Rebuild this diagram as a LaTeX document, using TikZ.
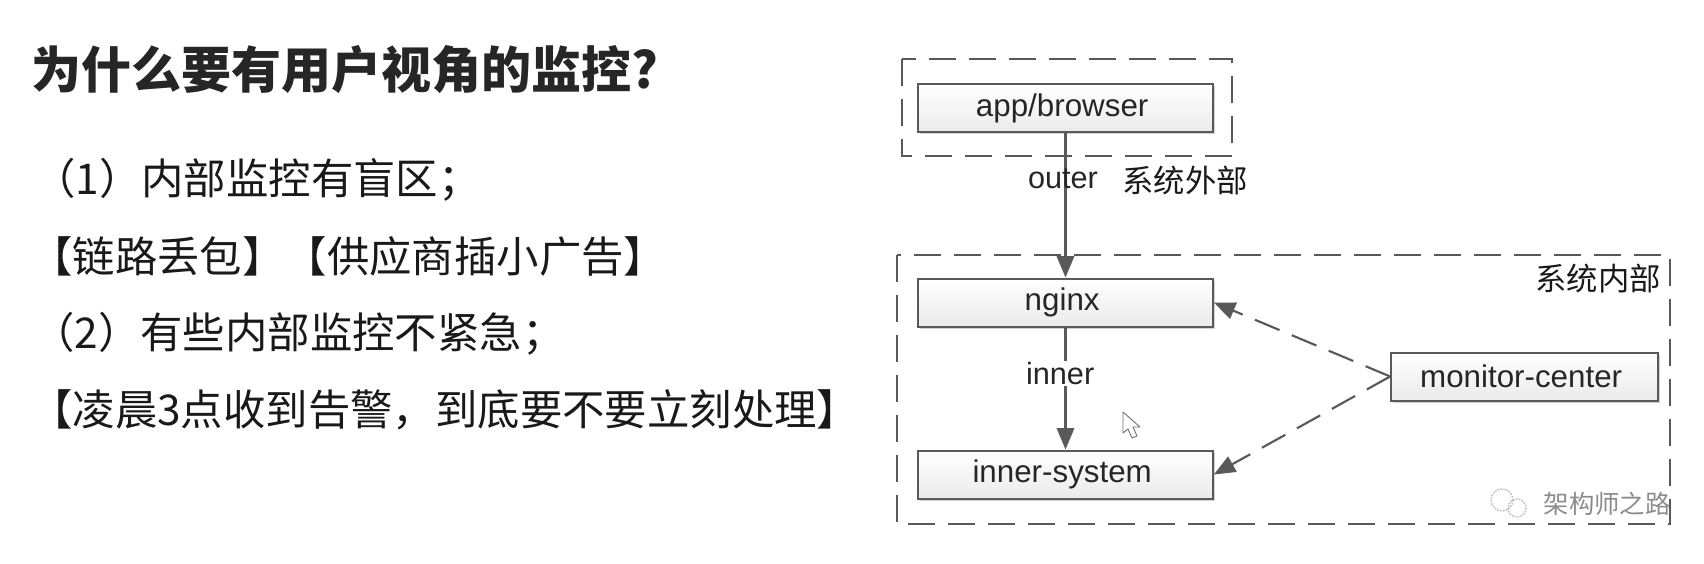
\documentclass[tikz,border=0pt]{standalone}
\usepackage{fontspec}
\usepackage{tikz}
\usetikzlibrary{arrows.meta,shadows}
\setmainfont{Liberation Sans}
\newfontfamily\cjk{Noto Sans CJK SC}

\tikzset{
  boxnode/.style={draw=black!65,line width=1.5pt,rectangle,top color=white,bottom color=black!8,
    minimum width=221pt,minimum height=36pt,inner sep=0pt,font=\fontsize{23.5}{27}\selectfont,text=black!85,
    execute at begin node=\hspace*{-5pt},
    drop shadow={shadow xshift=1.4pt,shadow yshift=-1.6pt,fill=black!35}},
  framebox/.style={draw=black!65,line width=1.9pt,dash pattern=on 20pt off 10pt},
  flowline/.style={draw=black!65,line width=1.6pt,-{Triangle[length=16pt,width=13pt]}},
  lookline/.style={flowline,dash pattern=on 20pt off 10pt},
  edgetext/.style={font=\fontsize{23}{27}\selectfont,text=black!85,inner sep=1pt},
  zhtext/.style={font=\cjk\fontsize{23.5}{28}\selectfont,text=black!90,inner sep=0pt},
  bodytext/.style={anchor=west,font=\cjk\fontsize{31.8}{38}\selectfont,text=black!90,inner sep=0pt},
}

\begin{document}
\begin{tikzpicture}[x=0.75pt,y=0.75pt,yscale=-1,xscale=1]
\useasboundingbox (0,0) rectangle (1704,564);

% Title and lines
\node (title) [anchor=west,inner sep=0pt,text=black!85,font=\cjk\bfseries\fontsize{37.5}{44}\selectfont] at (31,70) {为什么要有用户视角的监控?};
\node (lineone) [bodytext] at (33,180) {（1）内部监控有盲区；};
\node (linetwo) [bodytext] at (30,256) {【链路丢包】【供应商插小广告】};
\node (linethree) [bodytext] at (32,334) {（2）有些内部监控不紧急；};
\node (linefour) [bodytext] at (30,410) {【凌晨3点收到告警，到底要不要立刻处理】};

%Dashed frames
\draw [framebox] (902,59) rectangle (1232,156);
\draw [framebox] (897,255) rectangle (1670,524);

% Boxes
\node (browser) [boxnode] at (1065.5,108) {app/browser};
\node (nginx) [boxnode] at (1065.5,302.5) {nginx};
\node (innersystem) [boxnode] at (1065.5,474.5) {inner-system};
\node (monitor) [boxnode,minimum width=200pt] at (1524.5,376.5) {monitor-center};

%Straight Lines
\draw [flowline] (browser) -- (nginx);
\draw [flowline] (nginx) -- node (innerlabel) [edgetext,fill=white,pos=0.38,xshift=-4pt] {inner} (innersystem);
\draw [lookline] (monitor.west) -- (nginx.east);
\draw [lookline] (monitor.west) -- (innersystem.east);

% Text Node
\node (outerlabel) [edgetext] at (1063,179) {outer};
\node (outsidelabel) [zhtext] at (1185,181) {系统外部};
\node (insidelabel) [zhtext] at (1598,279) {系统内部};
\node (watermark) [zhtext,text=black!45,font=\cjk\fontsize{19}{23}\selectfont] at (1607,504) {架构师之路};

% Watermark icon
\draw [black!25,line width=1.2pt,densely dotted] (1502,500) circle [radius=11];
\draw [black!25,line width=1.2pt,densely dotted] (1517,508) circle [radius=9];

% Cursor
\draw [black!55,fill=white,line width=0.7pt,line join=round] (1123,412) -- (1123,433) -- (1128,429) -- (1132,438) -- (1137,436) -- (1133,427) -- (1140,427) -- cycle;

\end{tikzpicture}
\end{document}
